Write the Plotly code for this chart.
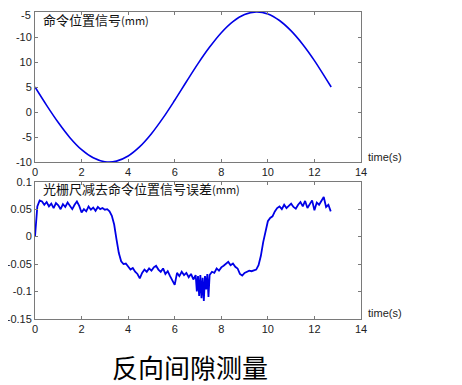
import plotly.graph_objects as go

OFF = 8  # default page body margin
W, H = 462 - OFF, 385 - OFF

# ---- data: command position signal (mm) ----
t_cmd = [0, 0.5, 1.0, 1.5, 2.0, 2.5, 3.0, 3.5, 4.0, 4.5, 5.0, 5.5, 6.0, 6.5,
         7.0, 7.5, 8.0, 8.5, 9.0, 9.5, 10.0, 10.5, 11.0, 11.5, 12.0, 12.5, 12.72]
cmd = [5.0, 1.33, -2.11, -5.13, -7.53, -9.16, -9.94, -9.82, -8.79, -6.93, -4.34,
       -1.18, 2.35, 6.04, 9.67, 12.98, 15.86, 18.08, 19.49, 20.0, 19.6, 18.3,
       16.22, 13.51, 10.28, 6.62, 5.0]

# ---- data: grating scale minus command position error (mm) ----
t_err = [0.0, 0.1, 0.2, 0.3, 0.4, 0.5, 0.6, 0.7, 0.8, 0.9,
         1.0, 1.1, 1.2, 1.3, 1.4, 1.5, 1.6, 1.7, 1.8, 1.9,
         2.0, 2.1, 2.2, 2.3, 2.4, 2.5, 2.6, 2.7, 2.8, 2.9,
         3.0, 3.1, 3.2, 3.3, 3.4, 3.5, 3.6, 3.7, 3.8, 3.9,
         4.0, 4.1, 4.2, 4.3, 4.4, 4.5, 4.6, 4.7, 4.8, 4.9,
         5.0, 5.1, 5.2, 5.3, 5.4, 5.5, 5.6, 5.7, 5.8, 5.9,
         6.0, 6.1, 6.2, 6.3, 6.4, 6.5, 6.6, 6.7, 6.8, 6.9,
         6.95, 7.0, 7.05, 7.1, 7.15, 7.2, 7.25, 7.3, 7.35, 7.4, 7.45, 7.5,
         7.6, 7.7, 7.8, 7.9, 8.0, 8.1, 8.2, 8.3, 8.4, 8.5, 8.6, 8.7, 8.8, 8.9,
         9.0, 9.1, 9.2, 9.3, 9.4, 9.5, 9.6, 9.7, 9.8, 9.9,
         10.0, 10.1, 10.2, 10.3, 10.4, 10.5, 10.6, 10.7, 10.8, 10.9,
         11.0, 11.1, 11.2, 11.3, 11.4, 11.5, 11.6, 11.7, 11.8, 11.9,
         12.0, 12.1, 12.2, 12.3, 12.4, 12.5, 12.6, 12.7]
err = [0.000, 0.055, 0.066, 0.064, 0.058, 0.063, 0.055, 0.060, 0.052, 0.061,
       0.057, 0.050, 0.059, 0.054, 0.062, 0.055, 0.050, 0.058, 0.064, 0.056,
       0.044, 0.050, 0.046, 0.055, 0.049, 0.053, 0.047, 0.054, 0.050, 0.052,
       0.049, 0.050, 0.046, 0.038, 0.022, -0.005, -0.030, -0.045, -0.050, -0.049,
       -0.055, -0.060, -0.057, -0.064, -0.068, -0.076, -0.066, -0.060, -0.064, -0.058,
       -0.062, -0.056, -0.053, -0.060, -0.064, -0.058, -0.068, -0.063, -0.072, -0.080,
       -0.088, -0.066, -0.072, -0.064, -0.070, -0.066, -0.074, -0.068, -0.078, -0.070,
       -0.100, -0.072, -0.108, -0.070, -0.112, -0.075, -0.117, -0.072, -0.096, -0.068, -0.110, -0.070,
       -0.064, -0.066, -0.058, -0.062, -0.056, -0.053, -0.050, -0.046, -0.052, -0.049, -0.055, -0.058, -0.068, -0.071,
       -0.066, -0.064, -0.062, -0.063, -0.061, -0.060, -0.052, -0.035, -0.010, 0.012,
       0.028, 0.034, 0.037, 0.046, 0.052, 0.055, 0.050, 0.058, 0.052, 0.056,
       0.060, 0.054, 0.051, 0.058, 0.063, 0.055, 0.065, 0.052, 0.060, 0.066,
       0.048, 0.062, 0.058, 0.066, 0.072, 0.054, 0.058, 0.046]

x_ticks = [0, 2, 4, 6, 8, 10, 12, 14]
top_tickvals = [-10, -5, 0, 5, 10, 15, 20]
top_ticktext = ["-10", "-5", "0", "5", "10", "-10", "-5"]
bot_tickvals = [-0.15, -0.1, -0.05, 0, 0.05, 0.1]
bot_ticktext = ["-0.15", "-0.1", "-0.05", "0", "0.05", "0.1"]

# plot area in screenshot pixels
L, R, T, B = 35, 361, 12, 319

def px(x):
    return (x - L) / (R - L)

def py(y):
    return 1 - (y - T) / (B - T)

LINE = "#0000e6"
AX = "#7a7a7a"
tickfont = dict(family="Liberation Sans, Arial, sans-serif", size=11, color="#222222")

fig = go.Figure()
fig.add_trace(go.Scatter(x=t_cmd, y=cmd, mode="lines", line=dict(color=LINE, width=1.6, shape="spline"),
                         xaxis="x", yaxis="y", showlegend=False))
fig.add_trace(go.Scatter(x=t_err, y=err, mode="lines", line=dict(color=LINE, width=1.8),
                         xaxis="x2", yaxis="y2", showlegend=False))

axcommon = dict(showgrid=False, zeroline=False, showline=True, linecolor=AX, linewidth=1,
                mirror="ticks", ticks="inside", ticklen=3, tickcolor=AX, tickfont=tickfont,
                automargin=False)

# the topmost tick label sits on the page edge; draw it as an annotation nudged inside
shown_top_text = top_ticktext[:-1] + [""]

fig.update_layout(
    width=W, height=H,
    margin=dict(l=L - OFF, r=462 - R, t=T - OFF, b=385 - B, autoexpand=False),
    paper_bgcolor="white", plot_bgcolor="white",
    xaxis=dict(domain=[0, 1], range=[0, 14], tickvals=x_ticks, anchor="y", **axcommon),
    yaxis=dict(domain=[py(162), py(12)], range=[-10, 20], tickvals=top_tickvals, ticktext=shown_top_text,
               anchor="x", **axcommon),
    xaxis2=dict(domain=[0, 1], range=[0, 14], tickvals=x_ticks, anchor="y2", **axcommon),
    yaxis2=dict(domain=[py(319), py(181.7)], range=[-0.15, 0.1], tickvals=bot_tickvals,
                ticktext=bot_ticktext, anchor="x2", **axcommon),
)

fig.add_annotation(xref="paper", yref="paper", x=px(32), y=py(OFF), xanchor="right", yanchor="top",
                   showarrow=False, text=top_ticktext[-1], font=tickfont, borderpad=0)

cjk = "Noto Sans CJK SC, sans-serif"
ann = [
    dict(x=px(41), y=py(19), text="命令位置信号<span style='font-size:11px'>(mm)</span>",
         font=dict(family=cjk, size=13, color="#111111")),
    dict(x=px(41), y=py(188), text="光栅尺减去命令位置信号误差<span style='font-size:11px'>(mm)</span>",
         font=dict(family=cjk, size=13, color="#111111")),
    dict(x=px(366), y=py(157), text="time(s)", font=dict(family="Liberation Sans, Arial", size=11, color="#222222")),
    dict(x=px(366), y=py(313), text="time(s)", font=dict(family="Liberation Sans, Arial", size=11, color="#222222")),
]
for a in ann:
    fig.add_annotation(xref="paper", yref="paper", xanchor="left", yanchor="middle", showarrow=False, **a)

fig.add_annotation(xref="paper", yref="paper", x=px(190), y=py(366), xanchor="center", yanchor="middle",
                   showarrow=False, text="反向间隙测量",
                   font=dict(family=cjk, size=26, color="#000000"))

fig.write_html("out.html")
